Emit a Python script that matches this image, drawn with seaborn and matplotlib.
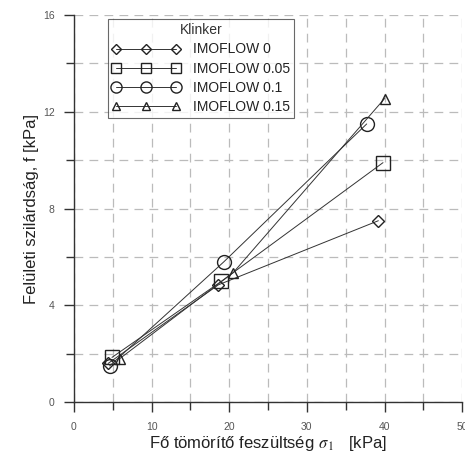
import matplotlib
matplotlib.use("Agg")
import matplotlib.pyplot as plt
import seaborn as sns
import pandas as pd
from matplotlib.ticker import MultipleLocator

sns.set_style("ticks")
plt.rcParams['font.family'] = ['Liberation Sans', 'DejaVu Sans']
plt.rcParams['mathtext.fontset'] = 'stix'

series = ["IMOFLOW 0", "IMOFLOW 0.05", "IMOFLOW 0.1", "IMOFLOW 0.15"]
x_imo0 = [4.4, 18.6, 39.2]
y_imo0 = [1.6, 4.85, 7.5]
x_imo005 = [4.9, 19.0, 39.8]
y_imo005 = [1.85, 5.0, 9.9]
x_imo01 = [4.6, 19.3, 37.7]
y_imo01 = [1.5, 5.8, 11.5]
x_imo015 = [5.9, 20.5, 40.0]
y_imo015 = [1.8, 5.35, 12.55]

xs = [x_imo0, x_imo005, x_imo01, x_imo015]
ys = [y_imo0, y_imo005, y_imo01, y_imo015]
markers = ["D", "s", "o", "^"]
msizes = [6.5, 9.5, 10, 7]

fig = plt.figure(figsize=(4.65, 4.57), dpi=100)
ax = fig.add_axes([0.159, 0.120, 0.835, 0.847])

for name, x, y, m, ms in zip(series, xs, ys, markers, msizes):
    df = pd.DataFrame({"x": x, "y": y})
    sns.lineplot(data=df, x="x", y="y", ax=ax, color="#333333", lw=0.7,
                 marker=m, markersize=ms, markerfacecolor="none",
                 markeredgecolor="#222222", markeredgewidth=1.0, label=name,
                 sort=False)

ax.set_xlim(0, 50)
ax.set_ylim(0, 16)
ax.xaxis.set_major_locator(MultipleLocator(10))
ax.xaxis.set_minor_locator(MultipleLocator(5))
ax.yaxis.set_major_locator(MultipleLocator(4))
ax.yaxis.set_minor_locator(MultipleLocator(2))
ax.grid(True, which="both", color="#bbbbbb", linestyle=(0, (7, 5)), lw=0.9)
ax.set_axisbelow(True)
for s in ["top", "right"]:
    ax.spines[s].set_visible(False)
for s in ["left", "bottom"]:
    ax.spines[s].set_color("#333333")
    ax.spines[s].set_linewidth(1.0)
ax.tick_params(which="both", direction="out", length=7, width=1.0, color="#333333",
               labelsize=7.5, labelcolor="#555555", pad=7,
               bottom=True, left=True, top=False, right=False)
ax.tick_params(which="minor", length=6)

ax.set_xlabel(r"Fő tömörítő feszültség $\sigma_{\,1}$   [kPa]", fontsize=12, color="#222222", labelpad=1.5)
ax.set_ylabel("Felületi szilárdság, f [kPa]", fontsize=12, color="#222222", labelpad=3)

leg = ax.legend(title="Klinker", numpoints=3, loc="upper left",
                bbox_to_anchor=(0.088, 0.99), borderaxespad=0,
                frameon=True, fancybox=False,
                edgecolor="#444444", fontsize=10, title_fontsize=10,
                handlelength=4.9, borderpad=0.3, labelspacing=0.38,
                handletextpad=0.9, markerscale=0.8)
leg.get_frame().set_linewidth(0.8)
leg.get_title().set_color("#333333")
for t in leg.get_texts():
    t.set_color("#222222")

fig.savefig("out.png", dpi=100)
